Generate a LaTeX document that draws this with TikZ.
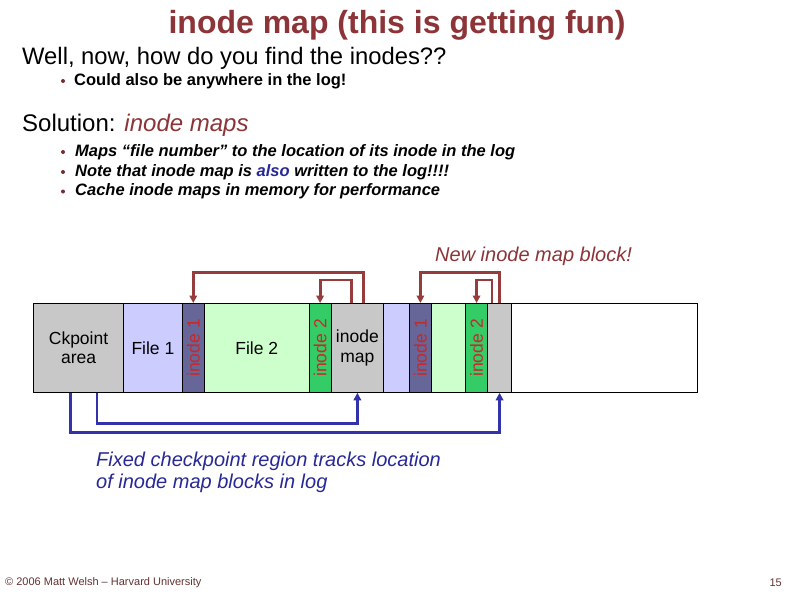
\documentclass[tikz,border=0pt]{standalone}
\usepackage{fontspec}
\setmainfont{Liberation Sans}
\usetikzlibrary{arrows.meta,calc}
\definecolor{titlered}{RGB}{140,52,56}
\definecolor{arrred}{RGB}{150,60,60}
\definecolor{arrblue}{RGB}{50,50,170}
\definecolor{txtblue}{RGB}{40,40,150}
\definecolor{lblred}{RGB}{200,40,40}
\definecolor{ckgray}{RGB}{200,200,200}
\definecolor{lblue}{RGB}{204,204,255}
\definecolor{dblue}{RGB}{102,102,153}
\definecolor{lgreen}{RGB}{204,255,204}
\definecolor{mgreen}{RGB}{51,204,102}
\definecolor{footc}{RGB}{100,50,50}
\begin{document}
\begin{tikzpicture}[x=1pt,y=-1pt,
  blk/.style={draw=black,line width=0.8pt,minimum height=89pt,inner sep=0pt,anchor=north west,font=\fontsize{17.5}{19.5}\selectfont,align=center},
  redarr/.style={draw=arrred,line width=2.8pt,-{Triangle[length=7.5pt,width=7.5pt]}},
  bluearr/.style={draw=arrblue,line width=2.8pt,-{Triangle[length=7.5pt,width=7.5pt]}},
  bul/.style={fill=titlered!85!black,circle,inner sep=0pt,minimum size=4pt},
  item/.style={anchor=base west,font=\bfseries\itshape\fontsize{16.5}{19}\selectfont}]
\useasboundingbox (0,0) rectangle (794,595);
\fill[white] (0,0) rectangle (794,595);

% title and text
\node[anchor=base,text=titlered,font=\bfseries\fontsize{32}{38}\selectfont] (title) at (397,33) {inode map (this is getting fun)};
\node[anchor=base west,font=\fontsize{23.8}{28}\selectfont,inner sep=0pt] (well) at (22,64) {Well, now, how do you find the inodes??};
\node[bul] (b0) at (63,81) {};
\node[anchor=base west,font=\bfseries\fontsize{16.5}{19}\selectfont,inner sep=0pt] (could) at (74,85) {Could also be anywhere in the log!};
\node[anchor=base west,font=\fontsize{24}{28}\selectfont,inner sep=0pt] (sol) at (22,131.5) {Solution: \textcolor{titlered}{\itshape inode maps}};
\node[bul] (b1) at (63,152) {};
\node[bul] (b2) at (63,172) {};
\node[bul] (b3) at (63,191.5) {};
\node[item,inner sep=0pt] (i1) at (75,156) {Maps “file number” to the location of its inode in the log};
\node[item,inner sep=0pt] (i2) at (75,176) {Note that inode map is \textcolor{txtblue}{also} written to the log!!!!};
\node[item,inner sep=0pt] (i3) at (75,195.5) {Cache inode maps in memory for performance};
\node[anchor=base west,text=titlered,font=\itshape\fontsize{20}{24}\selectfont,inner sep=0pt] (newb) at (435,261) {New inode map block!};

% blocks
\node[blk,fill=ckgray,minimum width=90.3pt] (ckpt) at (33,303) {Ckpoint\\area};
\node[blk,fill=lblue,minimum width=58.4pt] (file1) at (123.3,303) {File 1};
\node[blk,fill=dblue,minimum width=22.3pt,text=lblred] (ino1) at (181.7,303) {\rotatebox{90}{inode 1}};
\node[blk,fill=lgreen,minimum width=104.7pt] (file2) at (204,303) {File 2};
\node[blk,fill=mgreen,minimum width=22pt,text=lblred] (ino2) at (308.7,303) {\rotatebox{90}{inode 2}};
\node[blk,fill=ckgray,minimum width=52.6pt] (map) at (330.7,303) {inode\\map};
\node[blk,fill=lblue,minimum width=25.4pt] (fb) at (383.3,303) {};
\node[blk,fill=dblue,minimum width=22.6pt,text=lblred] (ino1b) at (408.7,303) {\rotatebox{90}{inode 1}};
\node[blk,fill=lgreen,minimum width=33.7pt] (f2b) at (431.3,303) {};
\node[blk,fill=mgreen,minimum width=22.3pt,text=lblred] (ino2b) at (465,303) {\rotatebox{90}{inode 2}};
\node[blk,fill=ckgray,minimum width=23.7pt] (mapb) at (487.3,303) {};
\node[blk,fill=white,minimum width=185.7pt] (free) at (511,303) {};

% red arrows
\draw[redarr] ([xshift=6.3pt]map.north) -- ++(0,-30.3) -| (ino1.north);
\draw[redarr] ([xshift=-6pt]map.north) -- ++(0,-23) -| (ino2.north);
\draw[redarr] (mapb.north) -- ++(0,-30.3) -| (ino1b.north);
\draw[redarr] ([xshift=-7.5pt]mapb.north) -- ++(0,-23) -| (ino2b.north);

% blue arrows
\draw[bluearr] ([xshift=18.5pt]ckpt.south) -- ++(0,30.3) -| (map.south);
\draw[bluearr] ([xshift=-8.2pt]ckpt.south) -- ++(0,39.7) -| (mapb.south);

\node[anchor=base west,text=txtblue,font=\itshape\fontsize{20}{22}\selectfont,align=left,inner sep=0pt] (fixed) at (96,488) {Fixed checkpoint region tracks location\\of inode map blocks in log};

% footer
\node[anchor=base west,text=footc,font=\fontsize{11}{13}\selectfont,inner sep=0pt] (foot) at (5,585) {© 2006 Matt Welsh – Harvard University};
\node[anchor=base east,text=footc,font=\fontsize{11}{13}\selectfont,inner sep=0pt] (pg) at (782,586) {15};
\end{tikzpicture}
\end{document}
